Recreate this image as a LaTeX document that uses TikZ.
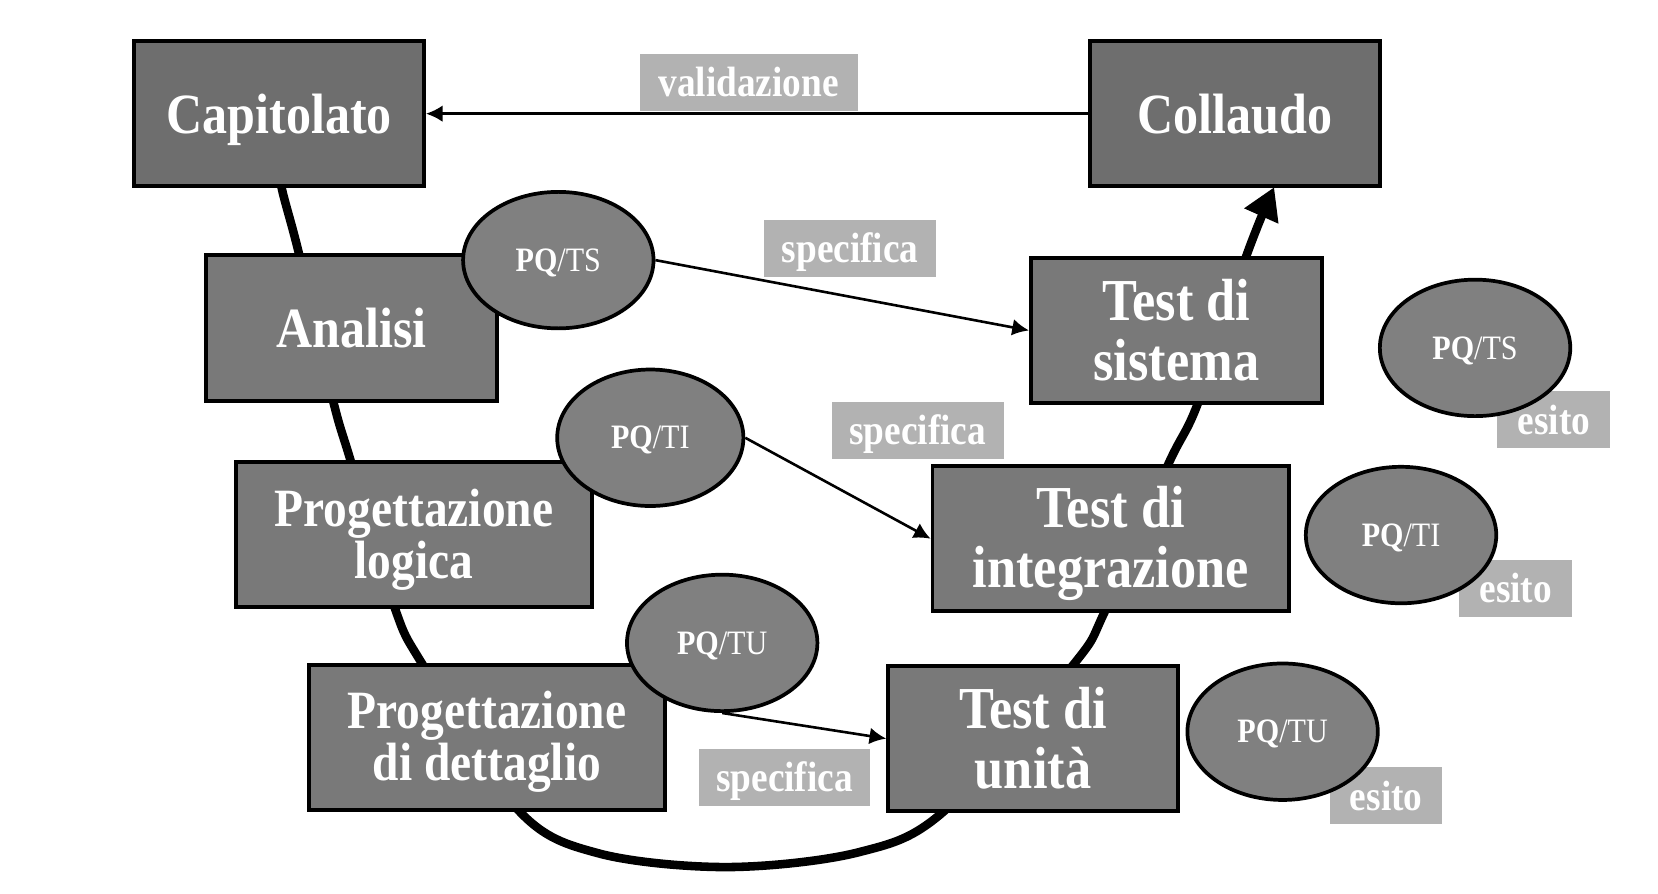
\documentclass[tikz,border=0pt]{standalone}
\usepackage{fontspec}
\setmainfont{Liberation Serif}[FakeStretch=0.88]
\usetikzlibrary{shapes.geometric,arrows.meta}
\definecolor{boxdark}{HTML}{6E6E6E}
\definecolor{boxmid}{HTML}{797979}
\definecolor{ellfill}{HTML}{808080}
\definecolor{labfill}{HTML}{B2B2B2}
\newcommand{\downby}[1]{\rule{0pt}{#1}}
\begin{document}
\begin{tikzpicture}[x=0.01cm,y=-0.01cm,
  phase/.style={draw=black, line width=1pt, text=white, inner sep=0pt, align=center, minimum height=1.37cm},
  topbox/.style={phase, fill=boxdark, minimum width=2.74cm, text depth=0pt, font=\fontsize{15.3}{15}\selectfont\bfseries},
  leftbox/.style={phase, fill=boxmid, font=\fontsize{14.5}{14}\selectfont\bfseries},
  testbox/.style={phase, fill=boxmid, font=\fontsize{16}{16.2}\selectfont\bfseries},
  pq/.style={ellipse, draw=black, line width=1pt, fill=ellfill, text=white, inner sep=0pt, minimum width=1.80cm, minimum height=1.29cm, text height=0.7em, text depth=0.1em, font=\fontsize{9.2}{10}\selectfont},
  lab/.style={fill=labfill, text=white, inner sep=0pt, minimum height=0.54cm, text height=0.97em, text depth=0.2em, font=\fontsize{11.4}{12}\selectfont\bfseries},
  vline/.style={line width=2.3pt, line cap=butt},
  thin/.style={line width=0.7pt, -{Latex[length=4.5pt,width=4.5pt]}}
]
\useasboundingbox (0,0) rectangle (1568,845);

% the V path
\coordinate (v0) at (262,140);
\coordinate (v1) at (266,176);
\coordinate (v2) at (283,241);
\coordinate (v3) at (315,379);
\coordinate (v4) at (332,437);
\coordinate (v5) at (373,574);
\coordinate (v6) at (400,629);
\coordinate (v7) at (490,766);
\coordinate (v8) at (566,807);
\coordinate (v9) at (688,820);
\coordinate (v10) at (812,806);
\coordinate (v11) at (893,767);
\coordinate (v12) at (1014,630);
\coordinate (v13) at (1045,578);
\coordinate (v14) at (1104,441);
\coordinate (v15) at (1133,381);
\coordinate (v16) at (1178,244);
\coordinate (v17) at (1205,177);
\draw[vline, -{Triangle[length=8.5pt,width=9.5pt]}] plot[smooth, tension=0.55] coordinates {(v0) (v1) (v2) (v3) (v4) (v5) (v6) (v7) (v8) (v9) (v10) (v11) (v12) (v13) (v14) (v15) (v16) (v17)};

% labels
\node[lab, minimum width=2.06cm] (val) at (708,78) {validazione};
\node[lab, minimum width=1.62cm] (sp1) at (804,235) {specifica};
\node[lab, minimum width=1.62cm] (sp2) at (868,407) {specifica};
\node[lab, minimum width=1.62cm] (sp3) at (742,735) {specifica};
\node[lab, minimum width=1.07cm] (es1) at (1469.5,397) {esito};
\node[lab, minimum width=1.07cm] (es2) at (1433.5,556.5) {esito};
\node[lab, minimum width=1.06cm] (es3) at (1311,752.5) {esito};

% boxes
\node[topbox] (cap) at (264,107.5) {Capitolato};
\node[topbox] (col) at (1168,107.5) {Collaudo};
\node[topbox, fill=boxmid, minimum width=2.75cm, minimum height=1.38cm] (ana) at (332.5,310) {Analisi};
\node[leftbox, minimum width=3.37cm] (plog) at (391.5,505.5) {\downby{13pt}Progettazione\\logica};
\node[leftbox, minimum width=3.37cm] (pdet) at (460.5,697.5) {\downby{12.5pt}Progettazione\\di dettaglio};
\node[testbox, minimum width=2.75cm] (tsys) at (1112.5,312.5) {Test di\\sistema};
\node[testbox, minimum width=3.37cm] (tint) at (1050.5,509.5) {\downby{13.5pt}Test di\\integrazione};
\node[testbox, minimum width=2.74cm] (tuni) at (977,698.5) {Test di\\unità};

% ellipses
\node[pq] (e1) at (528,246) {\textbf{PQ}/TS};
\node[pq, minimum width=1.76cm] (e2) at (615,414) {\textbf{PQ}/TI};
\node[pq] (e3) at (683,608) {\textbf{PQ}/TU};
\node[pq] (r1) at (1395,329) {\textbf{PQ}/TS};
\node[pq] (r2) at (1325,506) {\textbf{PQ}/TI};
\node[pq] (r3) at (1213,692) {\textbf{PQ}/TU};

% thin connectors
\draw[thin] (col.west) -- (cap.east);
\draw[thin] (e1.east) -- (tsys.west);
\draw[thin] (e2.east) -- (tint.west);
\draw[thin] (e3.south) -- (tuni.west);
\end{tikzpicture}
\end{document}
